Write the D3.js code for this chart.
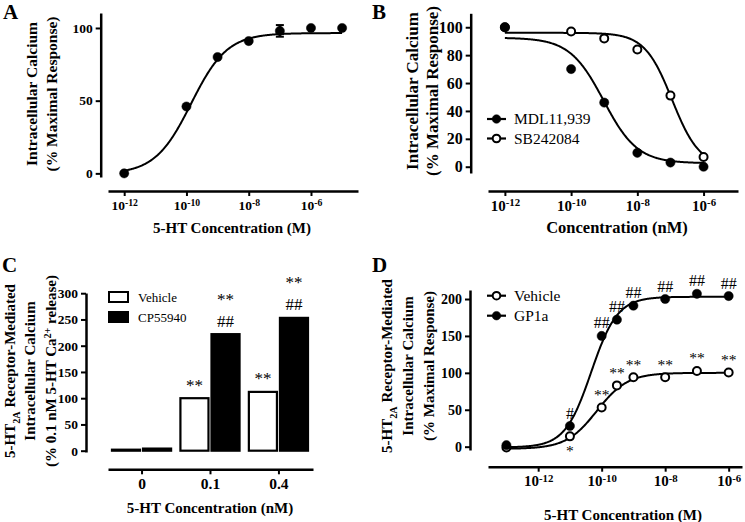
<!DOCTYPE html>
<html><head><meta charset="utf-8">
<script src="https://cdn.jsdelivr.net/npm/d3@7"></script>
<style>
body{margin:0;background:#fff;}
svg{display:block;font-family:"Liberation Serif","Times New Roman",serif;}
</style></head><body>
<svg id="chart" width="745" height="522"></svg>
<script>
// ---------- Panel A ----------
const doseA = [-12, -10, -9, -8, -7, -6, -5];          // log10 [5-HT] (M)
const respA = [0, 46, 80, 91, 98, 100, 100];
const errA  = [0, 0, 0, 0, 4, 0, 0];
const fitA  = [-0.5, 96.5, -9.85, 0.75];               // bottom, top, logEC50, hill
const yTicksA = [0, 50, 100];
const xTicksLog = [-12, -10, -8, -6];

// ---------- Panel B ----------
const doseB = [-12, -10, -9, -8, -7, -6];
const mdlB  = [100, 70, 46, 10, 3, 0];
const sbB   = [100, 97, 92, 84, 51, 7];
const fitMdlB = [2.5, 92.5, -9.02, 0.85];              // bottom, top, logIC50, hill
const fitSbB  = [0, 96, -6.95, 1.05];
const seriesB = ["MDL11,939", "SB242084"];
const yTicksB = [0, 20, 40, 60, 80, 100];

// ---------- Panel C ----------
const catsC = ["0", "0.1", "0.4"];
const vehicleC = [0, 100, 112];
const cpC = [4, 222, 253];
const seriesC = ["Vehicle", "CP55940"];
const sigVehC = ["", "**", "**"];
const sigCpC = [[], ["##", "**"], ["##", "**"]];
const yTicksC = [0, 50, 100, 150, 200, 250, 300];

// ---------- Panel D ----------
const doseD = [-13, -11, -10, -9.52, -9, -8, -7, -6];
const vehD  = [-1, 14, 53, 83, 94, 94, 102.5, 100.5];
const gpD   = [2, 28, 150, 172, 191, 200, 207, 204];
const fitVehD = [-3, 100, -10.15, 0.9];
const fitGpD  = [-1, 203, -10.33, 1.05];
const seriesD = ["Vehicle", "GP1a"];
const sigVehD = ["", "*", "**", "**", "**", "**", "**", "**"];
const sigGpD  = ["", "#", "##", "##", "##", "##", "##", "##"];
const yTicksD = [0, 50, 100, 150, 200];

// ---------- helpers ----------
const svg = d3.select("#chart");
svg.append("rect").attr("width", 745).attr("height", 522).attr("fill", "#fff");
const FONT = '"Liberation Serif","Times New Roman",serif';

const inc = (p, x) => p[0] + (p[1] - p[0]) / (1 + Math.pow(10, p[3] * (p[2] - x)));
const dec = (p, x) => p[0] + (p[1] - p[0]) / (1 + Math.pow(10, p[3] * (x - p[2])));

function styleAxis(a, fs) {
  a.attr("font-family", FONT);
  a.select(".domain").attr("stroke", "#000").attr("stroke-width", 2.5);
  a.selectAll(".tick line").attr("stroke", "#000").attr("stroke-width", 2);
  a.selectAll(".tick text").attr("font-size", fs).attr("font-weight", "bold").attr("fill", "#000");
}
function yAxis(y, x0, ticks, fs) {
  const a = svg.append("g").attr("transform", `translate(${x0},0)`)
    .call(d3.axisLeft(y).tickValues(ticks).tickSize(5).tickPadding(3).tickSizeOuter(0));
  styleAxis(a, fs);
  return a;
}
function xLogAxis(x, y0, ticks, fs) {
  const a = svg.append("g").attr("transform", `translate(0,${y0})`)
    .call(d3.axisBottom(x).tickValues(ticks).tickSize(5).tickPadding(4).tickSizeOuter(0).tickFormat(d => "10" + d));
  styleAxis(a, fs);
  a.selectAll(".tick text").each(function (d) {
    const t = d3.select(this);
    t.text(null);
    t.append("tspan").text("10");
    t.append("tspan").attr("dy", "-0.4em").attr("font-size", fs * 0.72).text(String(d));
  });
  return a;
}
function xTitle(txt, cx, by, fs) {
  svg.append("text").attr("x", cx).attr("y", by).attr("text-anchor", "middle")
    .attr("font-size", fs).attr("font-weight", "bold").attr("font-family", FONT).text(txt);
}
// lines: array of arrays of [text, kind] ; kind: "", "sub", "sup"
function yTitle(lines, cxs, cy, fs) {
  lines.forEach((segs, i) => {
    const t = svg.append("text").attr("transform", `translate(${cxs[i]},${cy}) rotate(-90)`)
      .attr("text-anchor", "middle").attr("dy", "0.35em")
      .attr("font-size", fs).attr("font-weight", "bold").attr("font-family", FONT);
    let pending = 0;
    segs.forEach(([s, k]) => {
      const ts = t.append("tspan").text(s);
      if (!k) {
        if (pending) ts.attr("dy", -pending);
        pending = 0;
      } else {
        const sh = k === "sub" ? 0.3 * fs : -0.38 * fs;
        ts.attr("dy", sh).attr("font-size", fs * 0.68);
        pending = sh;
      }
    });
  });
}
function letter(l, x, y) {
  svg.append("text").attr("x", x).attr("y", y).attr("font-size", 21).attr("font-weight", "bold")
    .attr("font-family", FONT).text(l);
}
function curve(x, y, f, p, a, b) {
  const pts = d3.range(a, b + 0.0001, 0.02);
  svg.append("path").datum(pts).attr("fill", "none").attr("stroke", "#000").attr("stroke-width", 2)
    .attr("d", d3.line().x(d => x(d)).y(d => y(f(p, d))));
}
function dots(x, y, xs, ys, filled) {
  svg.append("g").selectAll("circle").data(xs).join("circle")
    .attr("cx", d => x(d)).attr("cy", (d, i) => y(ys[i]))
    .attr("r", filled ? 4.6 : 4)
    .attr("fill", filled ? "#000" : "#fff").attr("stroke", "#000").attr("stroke-width", filled ? 0.5 : 2);
}
function legendLine(x0, yc, label, filled, fs) {
  svg.append("line").attr("x1", x0).attr("x2", x0 + 19).attr("y1", yc).attr("y2", yc)
    .attr("stroke", "#000").attr("stroke-width", 2.2);
  svg.append("circle").attr("cx", x0 + 9.5).attr("cy", yc).attr("r", filled ? 4.3 : 3.8)
    .attr("fill", filled ? "#000" : "#fff").attr("stroke", "#000").attr("stroke-width", filled ? 0.5 : 2);
  svg.append("text").attr("x", x0 + 27).attr("y", yc).attr("dy", "0.35em").attr("font-size", fs)
    .attr("font-family", FONT).text(label);
}
function sig(x, y, txt, fs) {
  svg.append("text").attr("x", x).attr("y", y).attr("text-anchor", "middle")
    .attr("font-size", fs).attr("font-family", FONT).attr("fill", "#000").text(txt);
}

// ================= Panel A =================
const xA = d3.scaleLinear().domain([-12.52, -4.49]).range([108, 358]);
const yA = d3.scaleLinear().domain([-2.5, 110.3]).range([177, 13]);
yAxis(yA, 100.7, yTicksA, 13.5);
xLogAxis(xA, 191, xTicksLog, 13.5);
curve(xA, yA, inc, fitA, -12, -5);
doseA.forEach((d, i) => {
  if (!errA[i]) return;
  const g = svg.append("g").attr("stroke", "#000").attr("stroke-width", 2);
  g.append("line").attr("x1", xA(d)).attr("x2", xA(d)).attr("y1", yA(respA[i] - errA[i])).attr("y2", yA(respA[i] + errA[i]));
  [respA[i] - errA[i], respA[i] + errA[i]].forEach(v =>
    g.append("line").attr("x1", xA(d) - 4).attr("x2", xA(d) + 4).attr("y1", yA(v)).attr("y2", yA(v)));
});
dots(xA, yA, doseA, respA, true);
xTitle("5-HT Concentration (M)", 232, 233, 15);
yTitle([[["Intracellular Calcium"]], [["(% Maximal Response)"]]], [32, 52], 94, 15.5);
letter("A", 3, 19);

// ================= Panel B =================
const xB = d3.scaleLinear().domain([-12.51, -4.96]).range([488, 738]);
const yB = d3.scaleLinear().domain([-4.5, 110]).range([173, 13.3]);
yAxis(yB, 470.7, yTicksB, 16);
xLogAxis(xB, 191, xTicksLog, 15);
curve(xB, yB, dec, fitSbB, -12, -6);
curve(xB, yB, dec, fitMdlB, -12, -6);
dots(xB, yB, doseB, sbB, false);
dots(xB, yB, doseB, mdlB, true);
legendLine(487, 119, seriesB[0], true, 15.5);
legendLine(487, 138.5, seriesB[1], false, 15.5);
xTitle("Concentration (nM)", 617, 233, 16.5);
yTitle([[["Intracellular Calcium"]], [["(% Maximal Response)"]]], [412, 432], 91, 17);
letter("B", 372, 19);

// ================= Panel C =================
const xC = d3.scaleLinear().domain([-0.49, 2.505]).range([108, 313]);
const yC = d3.scaleLinear().domain([-2.5, 300.4]).range([452, 293]);
const step = xC(1) - xC(0);
const bw = step * 0.41, gap = step * 0.022;
yAxis(yC, 86, yTicksC, 13.5);
const axC = svg.append("g").attr("transform", "translate(0,469.3)")
  .call(d3.axisBottom(xC).tickValues(d3.range(catsC.length)).tickSize(5).tickPadding(4)
    .tickSizeOuter(0).tickFormat(i => catsC[i]));
styleAxis(axC, 15.5);
catsC.forEach((c, i) => {
  const cx = xC(i);
  svg.append("rect").attr("x", cx - gap - bw).attr("width", bw)
    .attr("y", Math.min(yC(vehicleC[i]), yC(0) - 1)).attr("height", Math.max(1, yC(0) - yC(vehicleC[i])))
    .attr("fill", "#fff").attr("stroke", "#000").attr("stroke-width", 2.2);
  svg.append("rect").attr("x", cx + gap).attr("width", bw)
    .attr("y", Math.min(yC(cpC[i]), yC(0) - 1)).attr("height", Math.max(1, yC(0) - yC(cpC[i])))
    .attr("fill", "#000").attr("stroke", "#000").attr("stroke-width", 2.2);
  if (sigVehC[i]) sig(cx - gap - bw / 2, yC(vehicleC[i]) - 7.5, sigVehC[i], 17);
  sigCpC[i].forEach((s, k) => sig(cx + gap + bw / 2, yC(cpC[i]) - 7.5 - 22 * k, s, 17));
});
[0, 1].forEach(k => {
  svg.append("rect").attr("x", 109).attr("y", 292 + 20 * k).attr("width", 19).attr("height", 10)
    .attr("fill", k ? "#000" : "#fff").attr("stroke", "#000").attr("stroke-width", 2);
  svg.append("text").attr("x", 138).attr("y", 297 + 20 * k).attr("dy", "0.35em").attr("font-size", 13)
    .attr("font-family", FONT).text(seriesC[k]);
});
xTitle("5-HT Concentration (nM)", 210, 513, 15);
yTitle([
  [["5-HT"], ["2A", "sub"], [" Receptor-Mediated"]],
  [["Intracellular Calcium"]],
  [["(% 0.1 nM 5-HT Ca"], ["2+", "sup"], [" release)"]]
], [10, 30, 51], 371, 15);
letter("C", 2, 272);

// ================= Panel D =================
const xD = d3.scaleLinear().domain([-13.58, -5.58]).range([488, 742]);
const yD = d3.scaleLinear().domain([-4.5, 212.2]).range([450, 290]);
yAxis(yD, 470, yTicksD, 14);
xLogAxis(xD, 466.7, xTicksLog, 15);
curve(xD, yD, inc, fitVehD, -13, -6);
curve(xD, yD, inc, fitGpD, -13, -6);
dots(xD, yD, doseD, vehD, false);
dots(xD, yD, doseD, gpD, true);
doseD.forEach((d, i) => {
  if (sigGpD[i]) sig(xD(d), yD(gpD[i]) - 7.5, sigGpD[i], 16);
  if (sigVehD[i]) {
    const below = gpD[i] - vehD[i] < 40;
    sig(xD(d), below ? yD(vehD[i]) + 19.5 : yD(vehD[i]) - 7.5, sigVehD[i], 15.5);
  }
});
legendLine(487, 295.7, seriesD[0], false, 15.5);
legendLine(487, 315.7, seriesD[1], true, 15.5);
xTitle("5-HT Concentration (M)", 623, 520, 15);
yTitle([
  [["5-HT"], ["2A", "sub"], [" Receptor-Mediated"]],
  [["Intracellular Calcium"]],
  [["(% Maximal Response)"]]
], [387, 407.5, 429], 366, 15);
letter("D", 372, 272);
</script>
</body></html>
